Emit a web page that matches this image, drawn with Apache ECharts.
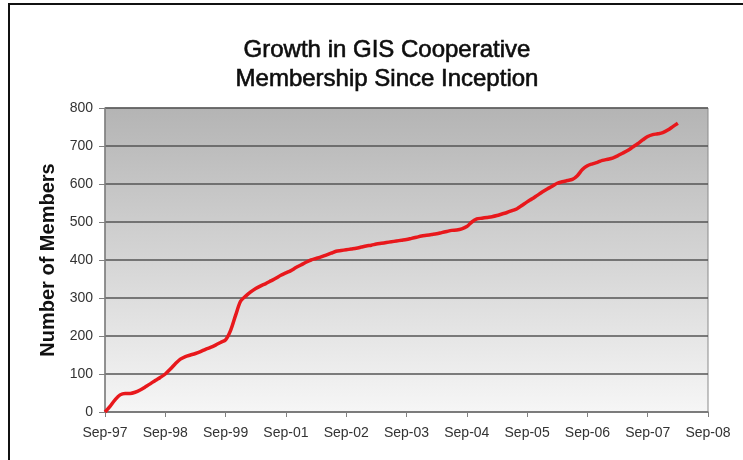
<!DOCTYPE html>
<html>
<head>
<meta charset="utf-8">
<script src="https://cdn.jsdelivr.net/npm/echarts@6/dist/echarts.min.js"></script>
<style>
  html, body { margin: 0; padding: 0; background: #ffffff; }
  #wrap { position: relative; width: 743px; height: 460px; overflow: hidden; background: #fff; }
  #chart { position: absolute; left: 0; top: 0; width: 743px; height: 460px; }
  #frame { position: absolute; left: 8px; top: 3px; width: 800px; height: 500px;
           border-left: 2px solid #111; border-top: 2px solid #111; pointer-events: none; }
</style>
</head>
<body>
<div id="wrap">
  <div id="chart"></div>
  <div id="frame"></div>
</div>
<script>
// Tick labels of the x axis (one every 12 months, as printed in the original)
var tickLabels = ['Sep-97','Sep-98','Sep-99','Sep-01','Sep-02','Sep-03','Sep-04','Sep-05','Sep-06','Sep-07','Sep-08'];

// Months since Sep-97
var months = [];
for (var m = 0; m <= 114; m++) months.push(m);

// Number of members (monthly)
var members = [
  0, 15, 32, 45, 49, 49, 52, 58, 66, 74,
  83, 91, 100, 113, 127, 139, 146, 150, 154, 159,
  165, 170, 176, 183, 190, 215, 255, 292, 305, 316,
  325, 332, 338, 345, 352, 360, 366, 372, 380, 387,
  394, 400, 404, 408, 413, 418, 423, 425, 427, 429,
  431, 434, 437, 439, 442, 444, 446, 448, 450, 452,
  454, 457, 460, 463, 465, 467, 469, 472, 475, 478,
  479, 482, 488, 500, 508, 510, 512, 514, 517, 521,
  525, 530, 535, 544, 553, 561, 570, 579, 587, 594,
  602, 606, 609, 612, 622, 638, 648, 653, 657, 662,
  665, 668, 674, 681, 688, 697, 706, 716, 725, 730,
  732, 735, 742, 751, 760
];

var chartTitle = 'Growth in GIS Cooperative\nMembership Since Inception';
var yAxisTitle = 'Number of Members';

var seriesData = months.map(function (mm, i) { return [mm, members[i]]; });

var chart = echarts.init(document.getElementById('chart'), null, { renderer: 'canvas' });
chart.setOption({
  animation: false,
  backgroundColor: '#ffffff',
  title: {
    text: chartTitle,
    left: 382,
    top: 31,
    textAlign: 'center',
    textStyle: {
      fontFamily: 'Liberation Sans, Arial, sans-serif',
      fontSize: 24,
      fontWeight: 'normal',
      lineHeight: 29,
      color: '#0d0d0d',
      textBorderColor: '#0d0d0d',
      textBorderWidth: 0.6
    }
  },
  grid: {
    left: 105, right: 35, top: 108, bottom: 48,
    show: true,
    borderColor: '#8a8a8a',
    borderWidth: 1,
    backgroundColor: {
      type: 'linear', x: 0, y: 0, x2: 0, y2: 1,
      colorStops: [
        { offset: 0, color: '#b4b4b4' },
        { offset: 1, color: '#f6f6f6' }
      ]
    }
  },
  xAxis: {
    type: 'value',
    min: 0,
    max: 120,
    interval: 12,
    axisLine: { show: true, lineStyle: { color: '#808080', width: 1.5 } },
    axisTick: { show: true, length: 5, lineStyle: { color: '#808080', width: 1 } },
    splitLine: { show: false },
    axisLabel: {
      margin: 14,
      fontFamily: 'Liberation Sans, Arial, sans-serif',
      fontSize: 14,
      color: '#333333',
      formatter: function (v) { return tickLabels[Math.round(v / 12)] || ''; }
    }
  },
  yAxis: {
    type: 'value',
    min: 0,
    max: 800,
    interval: 100,
    name: yAxisTitle,
    nameLocation: 'middle',
    nameGap: 47,
    nameTextStyle: {
      fontFamily: 'Liberation Sans, Arial, sans-serif',
      fontSize: 20,
      fontWeight: 'bold',
      color: '#111111'
    },
    axisLine: { show: true, lineStyle: { color: '#808080', width: 1.5 } },
    axisTick: { show: true, length: 6, lineStyle: { color: '#808080', width: 1 } },
    splitLine: { show: true, lineStyle: { color: '#555555', width: 1.5 } },
    axisLabel: {
      margin: 12,
      fontFamily: 'Liberation Sans, Arial, sans-serif',
      fontSize: 14,
      color: '#333333'
    }
  },
  series: [{
    type: 'line',
    data: seriesData,
    showSymbol: false,
    smooth: 0.3,
    lineStyle: { color: '#e8181c', width: 3.5 },
    itemStyle: { color: '#e8181c' },
    z: 5
  }]
});
</script>
</body>
</html>
